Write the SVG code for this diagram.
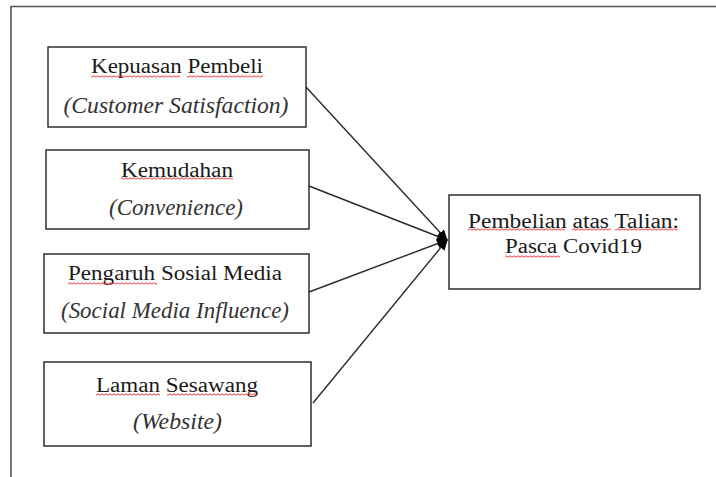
<svg xmlns="http://www.w3.org/2000/svg" width="716" height="477" viewBox="0 0 716 477">
<style>
.box{fill:#fff;stroke:#222;stroke-width:1.4}
.frame{fill:none;stroke:#555;stroke-width:1.6}
.reg{font-family:"Liberation Serif","Times New Roman",serif;font-size:20px;fill:#1a1a1a;text-anchor:middle}
.ital{font-family:"Liberation Serif","Times New Roman",serif;font-size:23px;font-style:italic;fill:#333;text-anchor:middle}
.conn{stroke:#2a2a2a;stroke-width:1.4;fill:none;marker-end:url(#arr)}
.sq{fill:url(#wave)}
</style>
<defs>
<marker id="arr" viewBox="0 0 10 10" refX="9" refY="5" markerWidth="11" markerHeight="11" markerUnits="userSpaceOnUse" orient="auto">
<path d="M0 0.5 L10 5 L0 9.5 Z" fill="#000"/>
</marker>
<pattern id="wave" width="4" height="3" patternUnits="userSpaceOnUse">
<path d="M0 2.2 L2 0.8 L4 2.2" fill="none" stroke="#e22" stroke-width="0.9"/>
</pattern>
</defs>
<path class="frame" d="M11 477 L11 6.5 L716 6.5"/>
<g id="connectors">
<line class="conn" x1="306" y1="87" x2="447" y2="240"/>
<line class="conn" x1="309" y1="186" x2="447" y2="240"/>
<line class="conn" x1="309" y1="292" x2="447" y2="240"/>
<line class="conn" x1="313" y1="403" x2="447" y2="240"/>
</g>
<g id="n1">
<rect class="box" x="48" y="47" width="258" height="80"/>
<text class="reg" x="177" y="73" textLength="172" lengthAdjust="spacingAndGlyphs">Kepuasan Pembeli</text>
<rect class="sq" x="91" y="75" width="89" height="3"/>
<rect class="sq" x="187" y="75" width="76" height="3"/>
<text class="ital" x="176" y="113" textLength="225" lengthAdjust="spacingAndGlyphs">(Customer Satisfaction)</text>
</g>
<g id="n2">
<rect class="box" x="46" y="150" width="263" height="79"/>
<text class="reg" x="177" y="177" textLength="112" lengthAdjust="spacingAndGlyphs">Kemudahan</text>
<rect class="sq" x="121" y="177" width="112" height="3"/>
<text class="ital" x="176" y="215" textLength="134" lengthAdjust="spacingAndGlyphs">(Convenience)</text>
</g>
<g id="n3">
<rect class="box" x="44" y="254" width="265" height="79"/>
<text class="reg" x="175" y="280" textLength="214" lengthAdjust="spacingAndGlyphs">Pengaruh Sosial Media</text>
<rect class="sq" x="68" y="282" width="89" height="3"/>
<text class="ital" x="175" y="318" textLength="228" lengthAdjust="spacingAndGlyphs">(Social Media Influence)</text>
</g>
<g id="n4">
<rect class="box" x="44" y="362" width="267" height="84"/>
<text class="reg" x="177" y="392" textLength="162" lengthAdjust="spacingAndGlyphs">Laman Sesawang</text>
<rect class="sq" x="96" y="393" width="64" height="3"/>
<rect class="sq" x="167" y="393" width="91" height="3"/>
<text class="ital" x="177.5" y="429" textLength="89" lengthAdjust="spacingAndGlyphs">(Website)</text>
</g>
<g id="target">
<rect class="box" x="449" y="195" width="251" height="94"/>
<text class="reg" x="573.5" y="228" textLength="211" lengthAdjust="spacingAndGlyphs">Pembelian atas Talian:</text>
<rect class="sq" x="468" y="228" width="97" height="3"/>
<rect class="sq" x="572" y="228" width="39" height="3"/>
<rect class="sq" x="615" y="228" width="63" height="3"/>
<text class="reg" x="573.5" y="253" textLength="137" lengthAdjust="spacingAndGlyphs">Pasca Covid19</text>
<rect class="sq" x="505" y="255" width="55" height="3"/>
</g>
</svg>
